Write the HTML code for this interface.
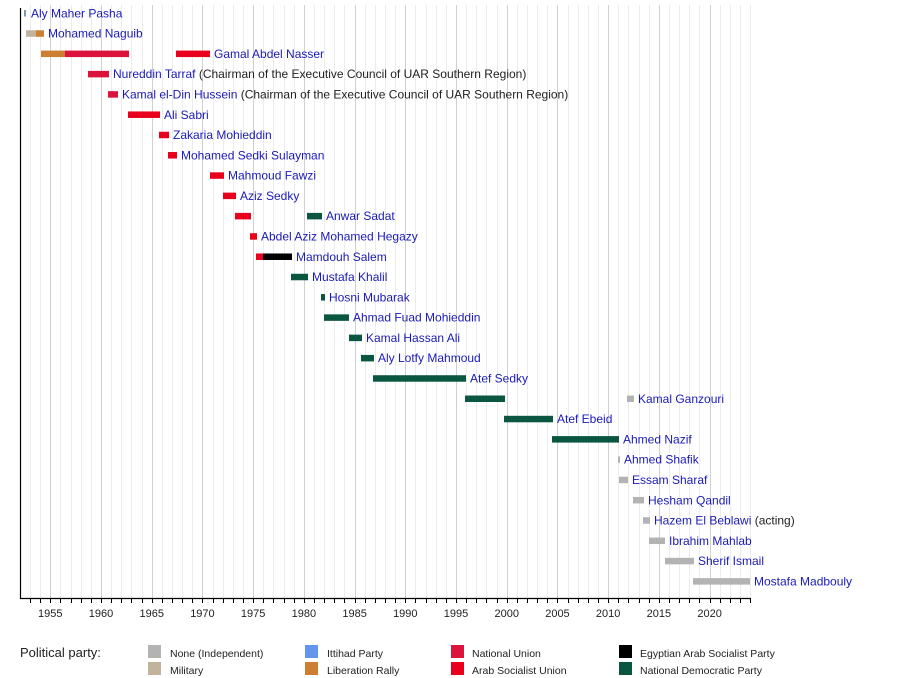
<!DOCTYPE html>
<html><head><meta charset="utf-8"><style>
html,body{margin:0;padding:0;background:#fff;}
svg{display:block;font-family:"Liberation Sans",sans-serif;}
.l{fill:#1a1ab8;font-size:12px;}
.n{fill:#222;font-size:12px;}
.t{fill:#222;font-size:11px;text-anchor:middle;}
.g{fill:#222;font-size:10.5px;}
</style></head><body>
<svg width="900" height="678" viewBox="0 0 900 678" xmlns="http://www.w3.org/2000/svg">
<g id="grid"></g>
<g id="bars"></g>
<line x1="20.5" y1="8" x2="20.5" y2="599" stroke="#000" stroke-width="1.2"/>
<line x1="20" y1="598.5" x2="750.5" y2="598.5" stroke="#000" stroke-width="1.2"/>
<g id="ticks"></g>
<text x="20" y="657" style="font-size:13px;fill:#222">Political party:</text>
<rect x="148" y="645" width="13" height="13" fill="#b3b3b3"/><text class="g" x="170" y="657">None (Independent)</text>
<rect x="148" y="662" width="13" height="13" fill="#c2b49a"/><text class="g" x="170" y="674">Military</text>
<rect x="305" y="645" width="13" height="13" fill="#6495ed"/><text class="g" x="327" y="657">Ittihad Party</text>
<rect x="305" y="662" width="13" height="13" fill="#cc7f33"/><text class="g" x="327" y="674">Liberation Rally</text>
<rect x="451" y="645" width="13" height="13" fill="#dc143c"/><text class="g" x="472" y="657">National Union</text>
<rect x="451" y="662" width="13" height="13" fill="#e8001c"/><text class="g" x="472" y="674">Arab Socialist Union</text>
<rect x="619" y="645" width="13" height="13" fill="#000"/><text class="g" x="640" y="657">Egyptian Arab Socialist Party</text>
<rect x="619" y="662" width="13" height="13" fill="#0b5640"/><text class="g" x="640" y="674">National Democratic Party</text>
</svg>
<script>
(function(){
var NS="http://www.w3.org/2000/svg";
function el(p,t,a,txt){var e=document.createElementNS(NS,t);for(var k in a)e.setAttribute(k,a[k]);if(txt)e.textContent=txt;p.appendChild(e);return e;}
var X=function(y){return 50.3+(y-1955)*10.143;};
var grid=document.getElementById("grid"),ticks=document.getElementById("ticks");
for(var y=1953;y<=2024;y++){var x=Math.round(X(y))+0.5;
 el(grid,"line",{x1:x,y1:5,x2:x,y2:598,stroke:(y%5==0)?"#d0d0d0":"#ececec","stroke-width":1});
 el(ticks,"line",{x1:x,y1:598,x2:x,y2:603,stroke:"#000","stroke-width":1});
 if(y%5==0)el(ticks,"text",{x:X(y),y:617,"class":"t"},String(y));}
var C={n:"#b3b3b3",m:"#c2b49a",l:"#cc7f33",u:"#dc143c",a:"#e8001c",e:"#000",d:"#0b5640",w:"#7f9ab8"};
var rows=[
[[[24,26,"w"]],31,"Aly Maher Pasha"],
[[[26,36,"m"],[36,44,"l"]],48,"Mohamed Naguib"],
[[[41,65,"l"],[65,129,"u"],[176,210,"a"]],214,"Gamal Abdel Nasser"],
[[[88,109,"u"]],113,"Nureddin Tarraf"," (Chairman of the Executive Council of UAR Southern Region)"],
[[[108,118,"u"]],122,"Kamal el-Din Hussein"," (Chairman of the Executive Council of UAR Southern Region)"],
[[[128,160,"a"]],164,"Ali Sabri"],
[[[159,169,"a"]],173,"Zakaria Mohieddin"],
[[[168,177,"a"]],181,"Mohamed Sedki Sulayman"],
[[[210,224,"a"]],228,"Mahmoud Fawzi"],
[[[223,236,"a"]],240,"Aziz Sedky"],
[[[235,251,"a"],[307,322,"d"]],326,"Anwar Sadat"],
[[[250,257,"a"]],261,"Abdel Aziz Mohamed Hegazy"],
[[[256,263,"a"],[263,292,"e"]],296,"Mamdouh Salem"],
[[[291,308,"d"]],312,"Mustafa Khalil"],
[[[321,325,"d"]],329,"Hosni Mubarak"],
[[[324,349,"d"]],353,"Ahmad Fuad Mohieddin"],
[[[349,362,"d"]],366,"Kamal Hassan Ali"],
[[[361,374,"d"]],378,"Aly Lotfy Mahmoud"],
[[[373,466,"d"]],470,"Atef Sedky"],
[[[465,505,"d"],[627,634,"n"]],638,"Kamal Ganzouri"],
[[[504,553,"d"]],557,"Atef Ebeid"],
[[[552,619,"d"]],623,"Ahmed Nazif"],
[[[618,620,"n"]],624,"Ahmed Shafik"],
[[[619,628,"n"]],632,"Essam Sharaf"],
[[[633,644,"n"]],648,"Hesham Qandil"],
[[[643,650,"n"]],654,"Hazem El Beblawi"," (acting)"],
[[[649,665,"n"]],669,"Ibrahim Mahlab"],
[[[665,694,"n"]],698,"Sherif Ismail"],
[[[693,750,"n"]],754,"Mostafa Madbouly"]];
var bars=document.getElementById("bars");
rows.forEach(function(r,i){var cy=13+i*20.29;
 r[0].forEach(function(b){el(bars,"rect",{x:b[0],y:cy-3,width:b[1]-b[0],height:6.5,fill:C[b[2]]});});
 var t=el(bars,"text",{x:r[1],y:cy+4.3,"class":"l"});
 var s=document.createElementNS(NS,"tspan");s.textContent=r[2];t.appendChild(s);
 if(r[3]){var s2=document.createElementNS(NS,"tspan");s2.setAttribute("class","n");s2.textContent=r[3];t.appendChild(s2);}
});
})();
</script>
</body></html>
